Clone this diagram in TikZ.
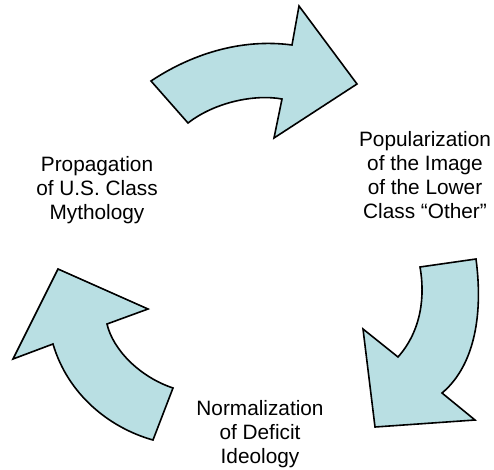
\documentclass[tikz,border=0pt]{standalone}
\usepackage{fontspec}
\setmainfont{Liberation Sans}
\usepackage{tikz}
\usetikzlibrary{positioning}
\definecolor{arrowfill}{RGB}{185,223,227}

\begin{document}
\begin{tikzpicture}[x=1pt,y=-1pt,thick,arrow shape/.style={fill=arrowfill,draw=black,line width=1.6pt,line join=miter},step node/.style={align=center,inner sep=0pt,font=\fontsize{20.8}{24}\selectfont}]
		\useasboundingbox (0,0) rectangle (494,469);

		% the three curved arrows
		\path[arrow shape] (151,81) .. controls (190,55) and (240,38) .. (292,45)
			-- (299,6) -- (357,84) -- (274,138) -- (282,99)
			.. controls (255,94) and (215,102) .. (188,123) -- cycle;
		\path[arrow shape] (476,259) -- (420,267)
			.. controls (425,295) and (422,330) .. (398,357)
			-- (363,329) -- (375,427) -- (475,420) -- (442,393)
			.. controls (472,368) and (484,320) .. (476,259) -- cycle;
		\path[arrow shape] (173,388) -- (153,440)
			.. controls (110,428) and (68,395) .. (53,344)
			-- (13,359) -- (58,269) -- (148,309) -- (107,324)
			.. controls (113,350) and (140,377) .. (173,388) -- cycle;

		\node[step node] (prop) at (97,190.6) {Propagation\\of U.S. Class\\Mythology};
		\node[step node] (pop) at (425,175.4) {Popularization\\of the Image\\of the Lower\\Class “Other”};
		\node[step node] (norm) at (260,434.6) {Normalization\\of Deficit\\Ideology};
	\end{tikzpicture}
\end{document}
